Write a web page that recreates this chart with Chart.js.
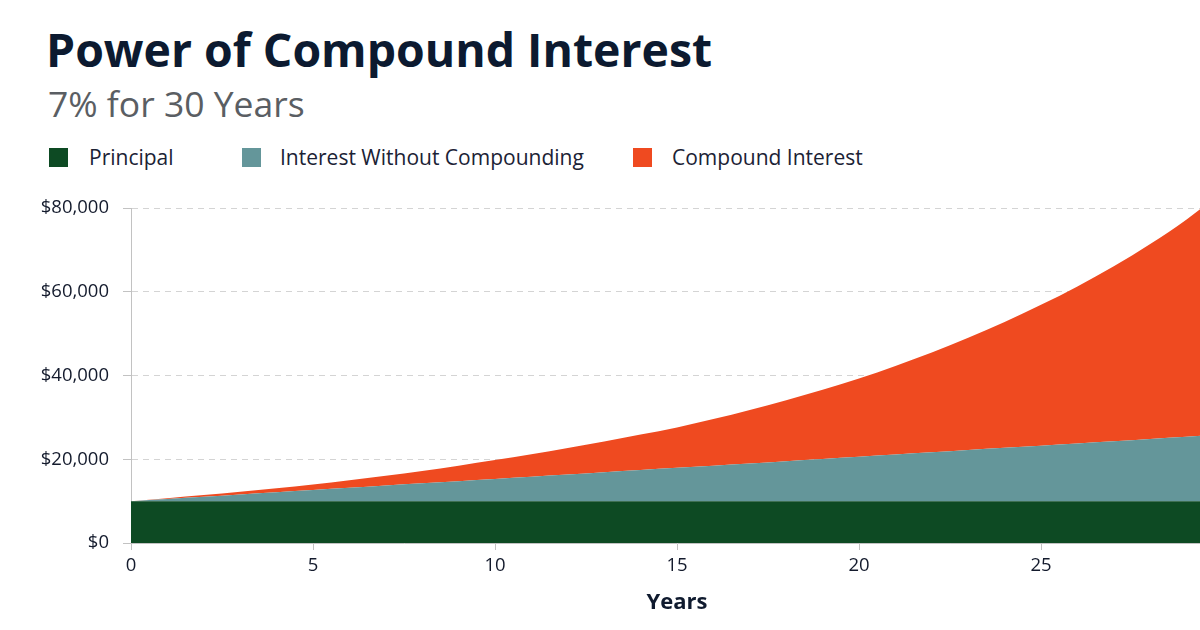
<!DOCTYPE html>
<html>
<head>
<meta charset="utf-8">
<script src="https://cdn.jsdelivr.net/npm/chart.js@4.4.1/dist/chart.umd.min.js"></script>
<style>
  html, body { margin: 0; padding: 0; background: #fff; overflow: hidden; }
  #wrap { position: relative; width: 1200px; height: 630px; overflow: hidden; font-family: 'Open Sans', sans-serif; }
  #title { position: absolute; left: 46px; top: 26px; margin: 0; font-size: 46.4px; font-weight: 700; line-height: 1; color: #0c1a30; white-space: nowrap; }
  #subtitle { position: absolute; left: 48px; top: 86px; margin: 0; font-size: 35.5px; font-weight: 400; line-height: 1; color: #5a5e63; white-space: nowrap; }
  .leg { position: absolute; top: 147px; height: 22px; font-size: 21px; line-height: 1; color: #1b2235; white-space: nowrap; }
  .leg .box { position: absolute; left: 0; top: 1px; width: 19px; height: 19px; }
  .leg .txt { position: absolute; top: 0; }
  #chart { position: absolute; left: 0; top: 183px; }
</style>
</head>
<body>
<div id="wrap">
  <div id="title">Power of Compound Interest</div>
  <div id="subtitle">7% for 30 Years</div>
  <div id="legend"></div>
  <canvas id="chart" width="1240" height="447"></canvas>
</div>
<script>
// Data (dollars, by year)
const years = [0, 1, 2, 3, 4, 5, 6, 7, 8, 9, 10, 11, 12, 13, 14, 15, 16, 17, 18, 19, 20,
               21, 22, 23, 24, 25, 26, 27, 28, 29, 30];
const principal = [10000, 10000, 10000, 10000, 10000, 10000, 10000, 10000, 10000, 10000, 10000,
                   10000, 10000, 10000, 10000, 10000, 10000, 10000, 10000, 10000, 10000,
                   10000, 10000, 10000, 10000, 10000, 10000, 10000, 10000, 10000, 10000];
const simpleTotal = [10000, 10530, 11060, 11600, 12130, 12650, 13180, 13720, 14250, 14780, 15300,
                     15830, 16360, 16900, 17430, 17950, 18480, 19010, 19550, 20080, 20600,
                     21130, 21660, 22200, 22730, 23250, 23780, 24310, 24850, 25380, 25900];
const compoundTotal = [10000, 10700, 11450, 12250, 13100, 14000, 15000, 16050, 17200, 18450, 19800,
                       21200, 22700, 24250, 25900, 27600, 29600, 31800, 34100, 36600, 39300,
                       42300, 45500, 49000, 52800, 56900, 61300, 66100, 71400, 77300, 84000];
const yTicks = [0, 20000, 40000, 60000, 80000];

const seriesLabels = ['Principal', 'Interest Without Compounding', 'Compound Interest'];
const seriesColors = ['#0d4a23', '#64969a', '#ef4a20'];

// legend item positions (left edge of each colour box)
const legendLeft = [49, 242, 633];
const legendTextOffset = [40, 38, 39];

const legendEl = document.getElementById('legend');
seriesLabels.forEach((lab, i) => {
  const item = document.createElement('div');
  item.className = 'leg';
  item.style.left = legendLeft[i] + 'px';
  item.innerHTML = '<span class="box" style="background:' + seriesColors[i] + '"></span>' +
                   '<span class="txt" style="left:' + legendTextOffset[i] + 'px">' + lab + '</span>';
  legendEl.appendChild(item);
});

function toPoints(values) {
  return years.map((x, i) => ({ x: x, y: values[i] }));
}

const series = [principal, simpleTotal, compoundTotal];
const datasets = series.map((vals, i) => ({
  label: seriesLabels[i],
  data: toPoints(vals),
  fill: i === 0 ? 'origin' : '-1',
  backgroundColor: seriesColors[i],
  borderColor: seriesColors[i],
  borderWidth: 0,
  pointRadius: 0,
  cubicInterpolationMode: 'monotone'
}));

const tickFont = { family: "'Open Sans', sans-serif", size: 18.5 };
const axisGrey = '#c2c2c2';

const ctx = document.getElementById('chart').getContext('2d');
new Chart(ctx, {
  type: 'line',
  data: { datasets: datasets },
  options: {
    responsive: false,
    animation: false,
    layout: { padding: { left: 40, top: 10, right: 17, bottom: 0 } },
    plugins: {
      legend: { display: false },
      tooltip: { enabled: false }
    },
    scales: {
      x: {
        type: 'linear',
        min: 0,
        max: 30,
        ticks: { stepSize: 5, font: tickFont, color: '#141b2d', padding: 5, maxRotation: 0 },
        grid: { drawOnChartArea: false, tickLength: 7, tickColor: axisGrey },
        border: { color: axisGrey },
        title: {
          display: true,
          text: 'Years',
          font: { family: "'Open Sans', sans-serif", size: 22, weight: 'bold' },
          color: '#0f1a2e',
          padding: { top: 0, bottom: 14 }
        },
        afterFit: s => { s.height = 87; }
      },
      y: {
        min: 0,
        max: 80000,
        afterBuildTicks: s => { s.ticks = yTicks.map(v => ({ value: v })); },
        ticks: {
          font: tickFont,
          color: '#141b2d',
          padding: 14,
          callback: v => '$' + Number(v).toLocaleString('en-US')
        },
        grid: { color: '#d4d4d4', tickLength: 8, tickColor: axisGrey },
        border: { color: axisGrey, dash: [6, 5] },
        afterFit: s => { s.width = 91; }
      }
    }
  }
});
</script>
</body>
</html>
